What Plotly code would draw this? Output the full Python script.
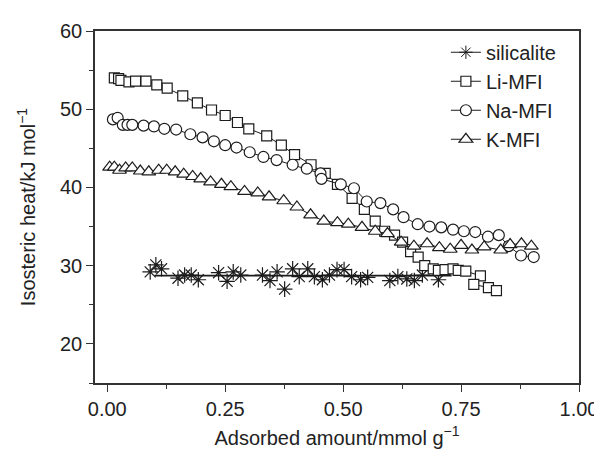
import numpy as np
import plotly.graph_objects as go

# ---- data ----
sil_x = [0.091, 0.103, 0.115, 0.150, 0.164, 0.178, 0.193, 0.236, 0.254, 0.267, 0.283,
         0.329, 0.345, 0.360, 0.376, 0.393, 0.407, 0.425, 0.439, 0.456, 0.471, 0.487,
         0.502, 0.518, 0.537, 0.552, 0.599, 0.616, 0.635, 0.651, 0.668, 0.702]
sil_y = [29.2, 30.1, 29.6, 28.4, 28.8, 28.8, 28.2, 29.1, 28.0, 29.2, 28.8,
         28.8, 28.1, 29.2, 27.0, 29.6, 28.6, 29.6, 28.6, 28.2, 28.8, 29.5,
         29.5, 28.6, 28.2, 28.5, 28.1, 28.6, 28.3, 28.1, 28.8, 28.2]
sil_fit_x = [0.10, 0.73]

li_x = [0.015, 0.024, 0.029, 0.046, 0.060, 0.082, 0.105, 0.127, 0.160, 0.191, 0.221,
        0.250, 0.276, 0.300, 0.338, 0.369, 0.397, 0.432, 0.462, 0.488, 0.519, 0.545,
        0.568, 0.588, 0.609, 0.626, 0.643, 0.659, 0.673, 0.691, 0.702, 0.716, 0.733,
        0.744, 0.760, 0.791, 0.777, 0.808, 0.825]
li_y = [54.0, 53.9, 53.7, 53.5, 53.6, 53.6, 53.1, 52.7, 51.7, 50.8, 49.9,
        49.2, 48.3, 47.5, 46.6, 45.4, 44.2, 42.9, 41.8, 40.4, 38.6, 37.2,
        35.7, 34.4, 33.9, 33.0, 31.8, 31.1, 30.0, 29.6, 29.4, 29.5, 29.6,
        29.4, 29.3, 28.7, 27.6, 27.2, 26.8]

na_x = [0.012, 0.022, 0.033, 0.043, 0.053, 0.077, 0.099, 0.121, 0.146, 0.176, 0.202,
        0.226, 0.250, 0.274, 0.302, 0.331, 0.359, 0.393, 0.423, 0.452, 0.454, 0.495,
        0.523, 0.550, 0.579, 0.606, 0.628, 0.658, 0.683, 0.708, 0.733, 0.756, 0.780,
        0.807, 0.830, 0.851, 0.877, 0.904]
na_y = [48.7, 48.9, 48.0, 48.0, 48.0, 47.9, 47.8, 47.5, 47.4, 46.8, 46.4,
        45.9, 45.4, 45.1, 44.5, 43.9, 43.5, 42.9, 42.4, 41.8, 41.1, 40.4,
        39.9, 38.2, 38.0, 37.2, 36.2, 35.3, 35.0, 34.9, 34.6, 34.4, 34.3,
        33.7, 33.9, 32.5, 31.3, 31.1]

k_x = [0.005, 0.015, 0.026, 0.039, 0.053, 0.070, 0.088, 0.109, 0.126, 0.144, 0.162,
       0.181, 0.198, 0.219, 0.242, 0.262, 0.291, 0.319, 0.343, 0.374, 0.402, 0.431,
       0.459, 0.488, 0.511, 0.540, 0.568, 0.594, 0.623, 0.650, 0.678, 0.704, 0.727,
       0.750, 0.773, 0.799, 0.834, 0.854, 0.878, 0.899]
k_y = [42.6, 42.6, 42.2, 42.5, 42.5, 42.1, 42.0, 42.2, 42.2, 42.0, 41.7,
       41.4, 41.1, 40.7, 40.4, 40.1, 39.5, 39.3, 38.8, 38.3, 37.5, 36.5,
       35.7, 35.5, 35.3, 34.9, 34.4, 34.1, 33.0, 32.5, 32.8, 32.3, 32.1,
       32.6, 32.0, 32.4, 32.0, 32.7, 32.8, 32.5]

x_ticks = [0.0, 0.25, 0.5, 0.75, 1.0]
x_ticklabels = ["0.00", "0.25", "0.50", "0.75", "1.00"]
y_ticks = [20, 30, 40, 50, 60]

INK = "#1c1c1c"
FONT = "Liberation Sans, Arial, sans-serif"

fig = go.Figure()

# silicalite: points + horizontal mean line
sil_mean = float(np.mean(sil_y))
fig.add_trace(go.Scatter(x=sil_fit_x, y=[sil_mean] * len(sil_fit_x), mode="lines",
                         line=dict(color=INK, width=1.8), showlegend=False, hoverinfo="skip"))
fig.add_trace(go.Scatter(x=sil_x, y=sil_y, mode="markers", showlegend=False,
                         marker=dict(symbol="asterisk-open", size=13, color=INK,
                                     line=dict(color=INK, width=1.2))))
fig.add_trace(go.Scatter(x=[None], y=[None], mode="lines+markers", name="silicalite",
                         line=dict(color=INK, width=1),
                         marker=dict(symbol="asterisk-open", size=11, color=INK,
                                     line=dict(color=INK, width=1))))

common = dict(mode="lines+markers", line=dict(color=INK, width=1))
fig.add_trace(go.Scatter(x=li_x, y=li_y, name="Li-MFI", **common,
                         marker=dict(symbol="square", size=10, color="white",
                                     line=dict(color=INK, width=1.2))))
fig.add_trace(go.Scatter(x=na_x, y=na_y, name="Na-MFI", **common,
                         marker=dict(symbol="circle", size=11, color="white",
                                     line=dict(color=INK, width=1.2))))
fig.add_trace(go.Scatter(x=k_x, y=k_y, name="K-MFI", **common,
                         marker=dict(symbol="triangle-up", size=12, color="white",
                                     line=dict(color=INK, width=1.2))))

axis_common = dict(showgrid=False, zeroline=False, showline=True, linecolor="#333",
                   linewidth=1.5, mirror=True, ticks="outside", ticklen=7, tickwidth=1.3,
                   tickcolor="#333", tickfont=dict(family=FONT, size=20, color="#222"))

fig.update_xaxes(range=[-0.026, 1.0], tickvals=x_ticks, ticktext=x_ticklabels,
                 minor=dict(dtick=0.125, tick0=0, ticks="outside", ticklen=4,
                            tickwidth=1.2, tickcolor="#333"),
                 title=dict(text="Adsorbed amount/mmol g<sup>\u22121</sup>",
                            font=dict(family=FONT, size=20, color="#222"), standoff=12),
                 **axis_common)
fig.update_yaxes(range=[15, 60], tickvals=y_ticks,
                 minor=dict(dtick=5, tick0=15, ticks="outside", ticklen=4,
                            tickwidth=1.2, tickcolor="#333"),
                 title=dict(text="Isosteric heat/kJ mol<sup>\u22121</sup>",
                            font=dict(family=FONT, size=20, color="#222"), standoff=19),
                 **axis_common)

fig.update_layout(
    width=602, height=450,
    margin=dict(l=87, r=20, t=20, b=67),
    paper_bgcolor="white", plot_bgcolor="white",
    legend=dict(x=0.725, y=0.995, xanchor="left", yanchor="top",
                bgcolor="rgba(0,0,0,0)", font=dict(family=FONT, size=20, color="#222"),
                tracegroupgap=0, itemwidth=30),
    font=dict(family=FONT),
)

fig.write_html("out.html")
